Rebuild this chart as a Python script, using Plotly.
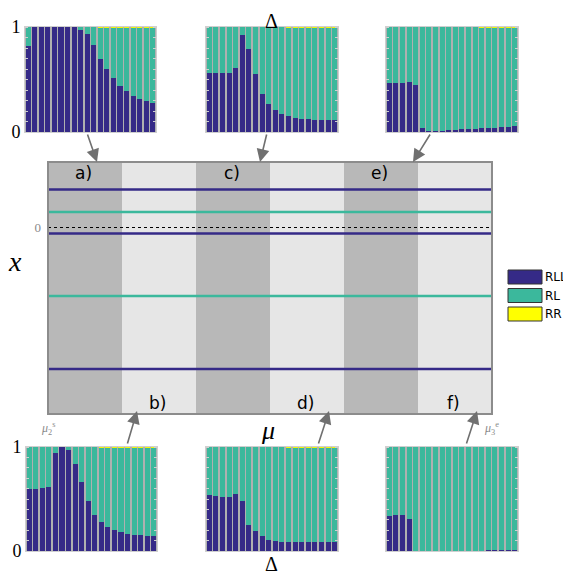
import plotly.graph_objects as go

W, H = 571, 574
PAGE_PAD = 8  # the page body margin shifts the figure by this much

# ── Colours ─────────────────────────────────────────────────────
C_RLL = "#352a87"
C_RL = "#3bb89c"
C_RR = "#f5f50a"
DARK_STRIPE = "#b8b8b8"
LIGHT_STRIPE = "#e6e6e6"
FRAME = "#8c8c8c"
ARROW = "#707070"

# ── Data ────────────────────────────────────────────────────────
# fraction of RLL per bar (20 bars per inset)
rll_a = [0.815, 1.0, 1.0, 1.0, 1.0, 1.0, 1.0, 1.0, 0.975, 0.93,
         0.83, 0.70, 0.60, 0.51, 0.44, 0.39, 0.345, 0.31, 0.295, 0.28]
rll_c = [0.56, 0.56, 0.56, 0.565, 0.61, 0.92, 0.79, 0.55, 0.36, 0.265,
         0.21, 0.17, 0.15, 0.135, 0.125, 0.12, 0.115, 0.115, 0.115, 0.115]
rll_e = [0.47, 0.465, 0.465, 0.475, 0.45, 0.04, 0.006, 0.01, 0.013, 0.016,
         0.02, 0.025, 0.03, 0.032, 0.035, 0.038, 0.04, 0.045, 0.048, 0.054]
rll_b = [0.60, 0.60, 0.61, 0.615, 0.94, 1.0, 0.975, 0.84, 0.66, 0.48,
         0.35, 0.275, 0.23, 0.20, 0.18, 0.165, 0.157, 0.15, 0.147, 0.145]
rll_d = [0.535, 0.53, 0.52, 0.515, 0.545, 0.48, 0.25, 0.19, 0.14, 0.11,
         0.10, 0.087, 0.083, 0.083, 0.083, 0.083, 0.083, 0.083, 0.085, 0.09]
rll_f = [0.34, 0.343, 0.343, 0.31, 0.0, 0.0, 0.0, 0.0, 0.0, 0.0,
         0.0, 0.0, 0.0, 0.003, 0.004, 0.005, 0.006, 0.008, 0.01, 0.013]

# small RR share sitting on top of the later bars
rr_a = [0, 0, 0, 0, 0, 0, 0, 0, 0, 0,
        0, 0.003, 0.003, 0.004, 0.005, 0.005, 0.006, 0.006, 0.006, 0.006]
rr_c = [0, 0, 0, 0, 0, 0, 0, 0, 0, 0,
        0, 0, 0.002, 0.003, 0.004, 0.004, 0.005, 0.005, 0.005, 0.005]
rr_e = [0, 0, 0, 0, 0, 0, 0, 0, 0, 0,
        0, 0, 0, 0, 0.002, 0.003, 0.003, 0.004, 0.004, 0.004]
rr_b = [0, 0, 0, 0, 0, 0, 0, 0, 0, 0,
        0, 0.002, 0.003, 0.004, 0.005, 0.006, 0.006, 0.006, 0.006, 0.006]
rr_d = [0, 0, 0, 0, 0, 0, 0, 0, 0, 0,
        0, 0, 0.002, 0.003, 0.004, 0.004, 0.005, 0.005, 0.005, 0.005]
rr_f = [0] * 20

bar_idx = list(range(1, 21))

# main panel: six parameter windows a)..f) along mu
window_labels = ["a)", "b)", "c)", "d)", "e)", "f)"]
# horizontal levels in x (arbitrary units, 0 = dotted line)
rll_levels = [0.76, -0.12, -2.83]
rl_levels = [0.31, -1.37]


def px_x(p):
    return (p - PAGE_PAD) / W


def px_y(p):
    return 1 - (p - PAGE_PAD) / H


fig = go.Figure()

# ── Main panel ──────────────────────────────────────────────────
for i in range(6):
    fig.add_shape(type="rect", xref="x", yref="y domain",
                  x0=i, x1=i + 1, y0=0, y1=1, layer="below",
                  line_width=0,
                  fillcolor=DARK_STRIPE if i % 2 == 0 else LIGHT_STRIPE)

fig.add_trace(go.Scatter(x=[0, 6], y=[0, 0], mode="lines",
                         line=dict(color="black", width=1, dash="dot"),
                         showlegend=False, hoverinfo="skip"))
for lv in rll_levels:
    fig.add_trace(go.Scatter(x=[0, 6], y=[lv, lv], mode="lines",
                             line=dict(color=C_RLL, width=2.5),
                             showlegend=False, hoverinfo="skip"))
for lv in rl_levels:
    fig.add_trace(go.Scatter(x=[0, 6], y=[lv, lv], mode="lines",
                             line=dict(color=C_RL, width=2.5),
                             showlegend=False, hoverinfo="skip"))

fig.add_shape(type="rect", xref="x domain", yref="y domain",
              x0=0, x1=1, y0=0, y1=1, line=dict(color=FRAME, width=2))

# window labels (top row a,c,e; bottom row b,d,f)
for i, lab in enumerate(window_labels):
    top = i % 2 == 0
    fig.add_annotation(x=i + 0.48, xref="x",
                       y=0.958 if top else 0.045, yref="y domain",
                       xanchor="center", yanchor="middle",
                       text=lab, showarrow=False,
                       font=dict(family="DejaVu Sans", size=17, color="black"))

# ── Insets ──────────────────────────────────────────────────────
insets = [
    (rll_a, rr_a, (25, 156), (27, 132), True),
    (rll_c, rr_c, (206, 338), (27, 132), False),
    (rll_e, rr_e, (386, 518), (27, 132), False),
    (rll_b, rr_b, (26, 157), (447, 551), True),
    (rll_d, rr_d, (206, 338), (447, 551), False),
    (rll_f, rr_f, (386, 518), (447, 551), False),
]

layout_axes = {}
for k, (rll, rr, (x0, x1), (y0, y1), labels) in enumerate(insets):
    n = k + 2
    rl = [round(1 - a - b, 4) for a, b in zip(rll, rr)]
    for name, vals, col in [("RLL", rll, C_RLL), ("RL", rl, C_RL),
                            ("RR", rr, C_RR)]:
        fig.add_trace(go.Bar(x=bar_idx, y=vals, marker_color=col,
                             marker_line_width=0, name=name,
                             showlegend=False,
                             xaxis=f"x{n}", yaxis=f"y{n}"))
    layout_axes[f"xaxis{n}"] = dict(
        domain=[px_x(x0), px_x(x1)], anchor=f"y{n}", automargin=False,
        range=[0.5, 20.5], showticklabels=False, showgrid=False,
        zeroline=False, showline=True, linecolor="#cfcfcf",
        linewidth=1, mirror=True, ticks="")
    layout_axes[f"yaxis{n}"] = dict(
        domain=[px_y(y1), px_y(y0)], anchor=f"x{n}", automargin=False,
        range=[0, 1], showgrid=False, zeroline=False,
        showline=True, linecolor="#cfcfcf", linewidth=1, mirror="ticks",
        ticks="", tickvals=[0, 1], showticklabels=labels,
        minor=dict(dtick=0.1, ticks="inside", ticklen=3,
                   tickcolor="#cfcfcf", showgrid=False),
        tickfont=dict(family="Liberation Serif", size=18, color="black"))

# ── Text ────────────────────────────────────────────────────────
serif = "Liberation Serif"
texts = [
    ("Δ", 271, 8, 20, "black", "top"),
    ("Δ", 271, 564, 20, "black", "middle"),
    ("<i>μ</i>", 268, 430, 26, "black", "middle"),
    ("<i>x</i>", 15, 262, 28, "black", "middle"),
    ("<i>μ</i><sub>2</sub><sup>s</sup>", 48, 428, 12, "#8a8a8a", "middle"),
    ("<i>μ</i><sub>3</sub><sup>e</sup>", 491, 428, 12, "#8a8a8a", "middle"),
]
for t, x, y, s, c, va in texts:
    fig.add_annotation(x=px_x(x), y=px_y(y), xref="paper", yref="paper",
                       xanchor="center", yanchor=va,
                       text=t, showarrow=False,
                       font=dict(family=serif, size=s, color=c))

# arrows: head position, tail offset in px
arrows = [(97, 162, -10, -29), (260, 162, 7, -29), (413, 162, 18, -29),
          (137, 411, -10, 34), (329, 411, -11, 34), (477, 411, -11, 34)]
for hx, hy, ax, ay in arrows:
    fig.add_annotation(x=px_x(hx), y=px_y(hy), xref="paper", yref="paper",
                       ax=ax, ay=ay, text="", showarrow=True,
                       arrowhead=2, arrowsize=1.6, arrowwidth=1.6,
                       arrowcolor=ARROW)

# ── Legend ──────────────────────────────────────────────────────
legend_items = [("RLL", C_RLL), ("RL", C_RL), ("RR", "#ffff00")]
for j, (lab, col) in enumerate(legend_items):
    top = 270 + j * 18.5
    fig.add_shape(type="rect", xref="paper", yref="paper",
                  x0=px_x(508), x1=px_x(542), y0=px_y(top + 14), y1=px_y(top),
                  fillcolor=col, line=dict(color="#333333", width=1))
    fig.add_annotation(x=px_x(543), y=px_y(top + 7), xref="paper",
                       yref="paper", text=lab, showarrow=False,
                       xanchor="left", yanchor="middle",
                       font=dict(family="DejaVu Sans", size=12, color="black"))

fig.update_layout(
    template="none",
    width=W, height=H,
    margin=dict(l=0, r=0, t=0, b=0, pad=0),
    paper_bgcolor="white",
    plot_bgcolor="#b0b0b0",
    barmode="stack", bargap=0.22,
    showlegend=False,
    xaxis=dict(domain=[px_x(48), px_x(492)], range=[0, 6], automargin=False,
               showticklabels=False, showgrid=False, zeroline=False,
               ticks=""),
    yaxis=dict(domain=[px_y(414), px_y(162)], range=[-3.73, 1.31],
               automargin=False, ticklabelstandoff=6,
               showgrid=False, zeroline=False, ticks="",
               tickvals=[0], ticktext=["0"],
               tickfont=dict(family=serif, size=13, color="#8a8a8a")),
    **layout_axes,
)

fig.write_html("out.html")
